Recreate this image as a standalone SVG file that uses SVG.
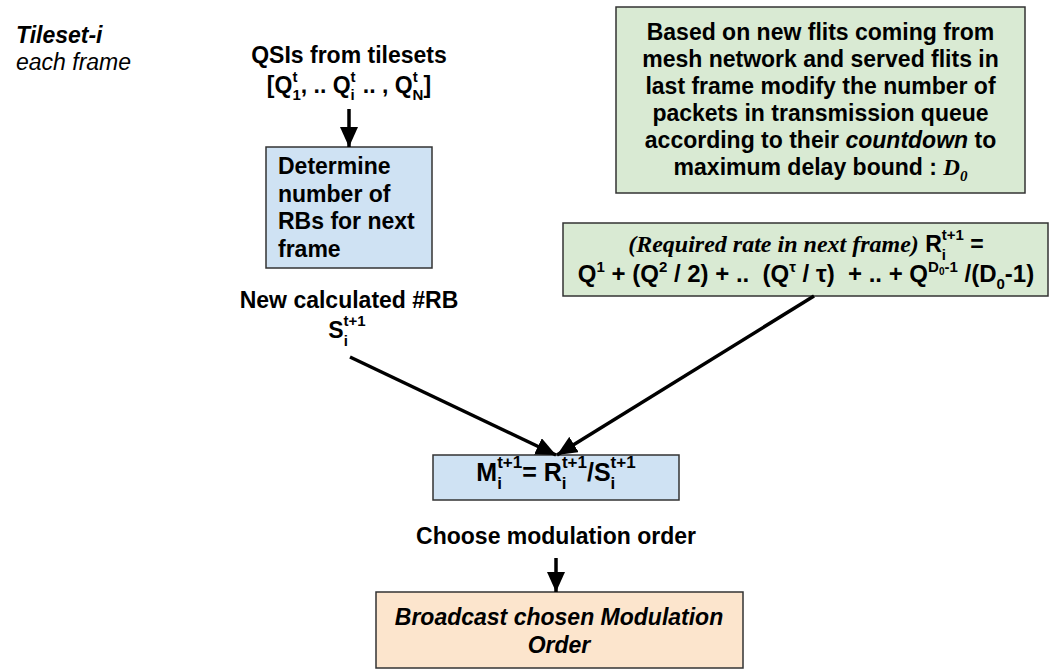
<svg xmlns="http://www.w3.org/2000/svg" width="1063" height="669" viewBox="0 0 1063 669">
<style>
text{font-family:"Liberation Sans",Arial,sans-serif;font-weight:bold;font-size:23px;fill:#000}
.it{font-style:italic}
.reg{font-weight:normal}
.s{font-size:15px}
.ss{font-size:10px}
.m{font-size:25px}
.m .s{font-size:17px}
.serif{font-family:"Liberation Serif","Times New Roman",serif;font-style:italic;font-weight:bold}
.box{stroke:#333;stroke-width:1.5}
.blue{fill:#cfe2f3}
.green{fill:#d9ead3}
.peach{fill:#fce5cd}
.conn line{stroke:#000;stroke-width:3.5}
</style>
<defs>
<marker id="ah" markerUnits="userSpaceOnUse" markerWidth="22" markerHeight="18" refX="20" refY="9" orient="auto">
<path d="M0,0 L20,9 L0,18 Z" fill="#000"/>
</marker>
</defs>

<g id="title">
<text class="it" x="16" y="43">Tileset-i</text>
<text class="it reg" x="16" y="70">each frame</text>
</g>

<g id="qsi">
<text x="349" y="63" text-anchor="middle">QSIs from tilesets</text>
<text x="349" y="93" text-anchor="middle">[Q<tspan class="s" dy="7">1</tspan><tspan class="s" dx="-8.3" dy="-18">t</tspan><tspan dx="3.3" dy="11">, .. Q</tspan><tspan class="s" dy="7">i</tspan><tspan class="s" dx="-4.2" dy="-18">t</tspan><tspan dx="0.8" dy="11"> .. , Q</tspan><tspan class="s" dy="7">N</tspan><tspan class="s" dx="-10.8" dy="-18">t</tspan><tspan dx="5.8" dy="11">]</tspan></text>
</g>

<g id="determine">
<rect class="box blue" x="266" y="147" width="166" height="121"/>
<text x="278" y="174">Determine</text>
<text x="278" y="201.6">number of</text>
<text x="278" y="229.2">RBs for next</text>
<text x="278" y="256.8">frame</text>
</g>

<g id="flits">
<rect class="box green" x="616" y="7" width="409" height="186"/>
<text x="820.5" y="40" text-anchor="middle">Based on new flits coming from</text>
<text x="820.5" y="67" text-anchor="middle">mesh network and served flits in</text>
<text x="820.5" y="94" text-anchor="middle">last frame modify the number of</text>
<text x="820.5" y="121" text-anchor="middle">packets in transmission queue</text>
<text x="820.5" y="148" text-anchor="middle">according to their <tspan class="it">countdown</tspan> to</text>
<text x="820.5" y="175" text-anchor="middle">maximum delay bound : <tspan class="serif">D</tspan><tspan class="serif s" dy="6">0</tspan></text>
</g>

<g id="rate">
<rect class="box green" x="563" y="223" width="485" height="73"/>
<text x="806" y="252" text-anchor="middle"><tspan class="serif" style="font-size:24px">(Required rate in next frame)</tspan> R<tspan class="s" dy="8">i</tspan><tspan class="s" dx="-4.2" dy="-20">t+1</tspan><tspan dy="12"> =</tspan></text>
<text x="806" y="282" text-anchor="middle" style="white-space:pre;font-size:24px">Q<tspan class="s" dy="-10">1</tspan><tspan dy="10"> + (Q</tspan><tspan class="s" dy="-10">2</tspan><tspan dy="10"> / 2) + ..  (Q</tspan><tspan class="s" dy="-10">τ</tspan><tspan dy="10"> / τ)  + .. + Q</tspan><tspan class="s" dy="-10">D</tspan><tspan class="ss" dy="3">0</tspan><tspan class="s" dy="-3">-1</tspan><tspan dy="10"> /(D</tspan><tspan class="s" dy="7">0</tspan><tspan dy="-7">-1)</tspan></text>
</g>

<g id="newrb">
<text x="349" y="308" text-anchor="middle">New calculated #RB</text>
<text x="347" y="338" text-anchor="middle">S<tspan class="s" dy="8">i</tspan><tspan class="s" dx="-4.2" dy="-20">t+1</tspan></text>
</g>

<g id="mod">
<rect class="box blue" x="433" y="455" width="246" height="45"/>
<text class="m" x="556" y="481" text-anchor="middle">M<tspan class="s" dy="8">i</tspan><tspan class="s" dx="-4.7" dy="-21">t+1</tspan><tspan dy="13">= R</tspan><tspan class="s" dy="8">i</tspan><tspan class="s" dx="-4.7" dy="-21">t+1</tspan><tspan dy="13">/S</tspan><tspan class="s" dy="8">i</tspan><tspan class="s" dx="-4.7" dy="-21">t+1</tspan></text>
</g>

<g id="choose">
<text x="556" y="544" text-anchor="middle">Choose modulation order</text>
</g>

<g id="broadcast">
<rect class="box peach" x="376" y="592" width="367" height="76"/>
<text class="it" x="559" y="625" text-anchor="middle">Broadcast chosen Modulation</text>
<text class="it" x="559" y="653" text-anchor="middle">Order</text>
</g>

<g id="connectors" class="conn">
<line x1="349" y1="109" x2="349" y2="147" marker-end="url(#ah)"/>
<line x1="350" y1="357" x2="556" y2="455" marker-end="url(#ah)"/>
<line x1="814" y1="296" x2="557" y2="455" marker-end="url(#ah)"/>
<line x1="556" y1="558" x2="556" y2="592" marker-end="url(#ah)"/>
</g>
</svg>
